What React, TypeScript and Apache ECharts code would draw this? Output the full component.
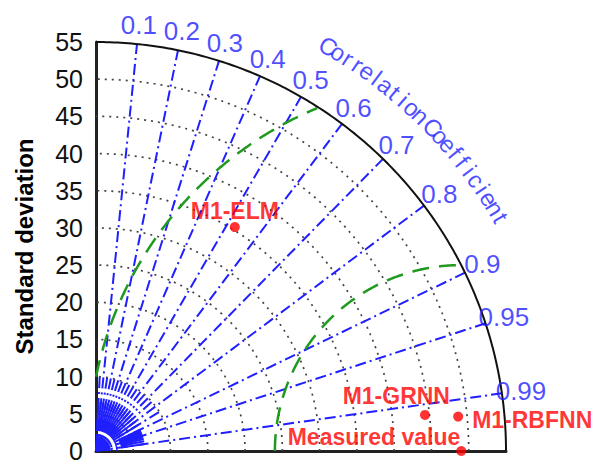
import React, { useEffect, useRef } from "react";
import * as echarts from "echarts";

// ---- data ----
const AXIS_MAX = 55;
const STD_TICK_INTERVAL = 5;
const STD_ARCS = [5, 10, 15, 20, 25, 30, 35, 40, 45, 50];
const CORR_TICKS = [0.1, 0.2, 0.3, 0.4, 0.5, 0.6, 0.7, 0.8, 0.9, 0.95, 0.99];
const CORR_LABELS = ["0.1", "0.2", "0.3", "0.4", "0.5", "0.6", "0.7", "0.8", "0.9", "0.95", "0.99"];
const MINOR_CORR = [0.05, 0.15, 0.25, 0.35, 0.45, 0.55, 0.65, 0.75, 0.85];
const FINE_CORR = [0.91, 0.92, 0.93, 0.94, 0.96, 0.97, 0.98];
const RMS_ARCS = [25, 50];
const MODELS = ["M1-ELM", "M1-GRNN", "M1-RBFNN"];
const MODEL_STD = [35.4, 44.4, 48.8];
const MODEL_CORR = [0.526, 0.994, 0.9955];
const REF_NAME = "Measured value";
const REF_STD = 49.0;
const Y_NAME = "Standard deviation";
const TITLE_WORDS = ["Correlation", "Coefficient"];

// ---- styles ----
const FONT = "'Liberation Sans', Arial, Helvetica, sans-serif";
const BLUE = "#1f1fff";
const GREEN = "#1f9a1f";
const RED = "#ff0000";

const D = Math.PI / 180;

function arc(cx: number, cy: number, r: number, a0: number, a1: number, n = 180) {
  const pts: number[][] = [];
  for (let i = 0; i <= n; i++) {
    const a = (a0 + ((a1 - a0) * i) / n) * D;
    pts.push([cx + r * Math.cos(a), cy + r * Math.sin(a)]);
  }
  return pts;
}

function polar(std: number, corr: number) {
  const s = Math.sqrt(Math.max(0, 1 - corr * corr));
  return [std * corr, std * s];
}

export default function App() {
  const ref = useRef<HTMLDivElement>(null);

  useEffect(() => {
    const chart = echarts.init(ref.current as HTMLDivElement, null, { renderer: "svg" });
    const lineBase: any = {
      type: "line",
      showSymbol: false,
      symbol: "none",
      silent: true,
      clip: false,
    };
    const series: any[] = [];

    // std arcs (grey dotted)
    STD_ARCS.forEach((r) => {
      series.push({
        ...lineBase,
        z: 1,
        data: arc(0, 0, r, 0, 90),
        lineStyle: { color: "#444", width: 1.7, type: [2, 5] },
      });
    });

    // labelled correlation rays
    CORR_TICKS.forEach((c) => {
      series.push({
        ...lineBase,
        z: 2,
        data: [[0, 0], polar(AXIS_MAX, c)],
        lineStyle: { color: BLUE, width: 2, type: [11, 4, 2, 4] },
      });
    });
    // minor rays near origin
    MINOR_CORR.forEach((c) => {
      series.push({
        ...lineBase,
        z: 2,
        data: [[0, 0], polar(10, c)],
        lineStyle: { color: BLUE, width: 2, type: [11, 4, 2, 4] },
      });
    });
    // short radial ticks around the origin
    [...MINOR_CORR, ...CORR_TICKS, ...FINE_CORR].forEach((c) => {
      series.push({
        ...lineBase,
        z: 2,
        data: [polar(3.4, c), polar(6.6, c)],
        lineStyle: { color: BLUE, width: 2 },
      });
    });
    // solid blob at origin
    series.push({
      type: "custom",
      silent: true,
      clip: false,
      z: 3,
      data: [[0, 0, 2]],
      renderItem: (params: any, api: any) => {
        const c = api.coord([api.value(0), api.value(1)]);
        const e = api.coord([api.value(2), 0]);
        return {
          type: "sector",
          shape: { cx: c[0], cy: c[1], r0: 0, r: e[0] - c[0], startAngle: -Math.PI / 2, endAngle: 0, clockwise: true },
          style: { fill: BLUE },
        };
      },
    });
    series.push({
      ...lineBase,
      z: 3,
      data: arc(0, 0, 2.8, 0, 90, 60),
      lineStyle: { color: BLUE, width: 1.5 },
    });

    // RMS arcs (green dashed), centred on the reference point
    RMS_ARCS.forEach((R) => {
      const pts = arc(REF_STD, 0, R, 180, 0, 720).filter(
        (p) => p[0] >= 0 && p[1] >= 0 && p[0] * p[0] + p[1] * p[1] <= AXIS_MAX * AXIS_MAX
      );
      series.push({
        ...lineBase,
        z: 4,
        data: pts,
        lineStyle: { color: GREEN, width: 2.5, type: [17, 10] },
      });
    });

    // outer arc
    series.push({
      ...lineBase,
      z: 5,
      data: arc(0, 0, AXIS_MAX, 0, 90),
      lineStyle: { color: "#111", width: 2 },
    });

    // correlation tick labels
    series.push({
      type: "scatter",
      silent: true,
      clip: false,
      z: 6,
      symbolSize: 0.1,
      itemStyle: { color: "transparent" },
      data: CORR_TICKS.map((c, i) => ({
        value: polar(AXIS_MAX * 1.047, c),
        label: { formatter: CORR_LABELS[i] },
      })),
      label: {
        show: true,
        position: "inside",
        align: "center",
        verticalAlign: "middle",
        fontFamily: FONT,
        fontSize: 26,
        color: BLUE,
      },
    });

    // arc title "Correlation Coefficient"
    const titleChars: any[] = [];
    const starts = [60.2, 43.9];
    const steps = [1.42, 1.39];
    TITLE_WORDS.forEach((w, wi) => {
      w.split("").forEach((ch, ci) => {
        const ang = starts[wi] - steps[wi] * ci;
        const r = 62.7;
        titleChars.push({
          value: [r * Math.cos(ang * D), r * Math.sin(ang * D)],
          label: { formatter: ch, rotate: ang - 90 },
        });
      });
    });
    series.push({
      type: "scatter",
      silent: true,
      clip: false,
      z: 6,
      symbolSize: 0.1,
      itemStyle: { color: "transparent" },
      data: titleChars,
      label: {
        show: true,
        position: "inside",
        align: "center",
        verticalAlign: "middle",
        fontFamily: FONT,
        fontSize: 24,
        color: BLUE,
      },
    });

    // model points and reference
    const labelOffsets: any[] = [
      { align: "center", offset: [0, -16] },
      { align: "right", offset: [25, -19] },
      { align: "left", offset: [14, 3] },
    ];
    const pts: any[] = MODELS.map((m, i) => ({
      value: polar(MODEL_STD[i], MODEL_CORR[i]),
      label: { formatter: m, ...labelOffsets[i] },
    }));
    pts.push({
      value: [REF_STD, 0],
      label: { formatter: REF_NAME, align: "right", offset: [-1, -14] },
    });
    series.push({
      type: "scatter",
      silent: true,
      clip: false,
      z: 8,
      symbol: "circle",
      symbolSize: 10,
      itemStyle: { color: RED },
      data: pts,
      label: {
        show: true,
        position: "inside",
        verticalAlign: "middle",
        fontFamily: FONT,
        fontSize: 23,
        fontWeight: "bold",
        color: RED,
      },
    });

    const option: any = {
      animation: false,
      backgroundColor: "#fff",
      grid: {
        left: 96,
        top: 42,
        width: 410,
        height: 409,
        containLabel: false,
        outerBoundsMode: "none",
      },
      xAxis: {
        type: "value",
        min: 0,
        max: AXIS_MAX,
        axisLine: { show: true, lineStyle: { color: "#222", width: 3 } },
        axisTick: { show: false },
        axisLabel: { show: false },
        splitLine: { show: false },
      },
      yAxis: {
        type: "value",
        min: 0,
        max: AXIS_MAX,
        interval: STD_TICK_INTERVAL,
        name: Y_NAME,
        nameLocation: "middle",
        nameRotate: 90,
        nameGap: 60,
        nameTextStyle: {
          fontFamily: FONT,
          fontSize: 24,
          fontWeight: "bold",
          color: "#000",
        },
        axisLine: { show: true, lineStyle: { color: "#222", width: 3 } },
        axisTick: { show: false },
        axisLabel: {
          show: true,
          margin: 13,
          fontFamily: FONT,
          fontSize: 25,
          lineHeight: 25,
          color: "#111",
        },
        splitLine: { show: false },
      },
      series,
    };
    chart.setOption(option);
    return () => chart.dispose();
  }, []);

  return (
    <div
      ref={ref}
      style={{ position: "fixed", left: 0, top: 0, width: 596, height: 464, background: "#fff" }}
    />
  );
}
